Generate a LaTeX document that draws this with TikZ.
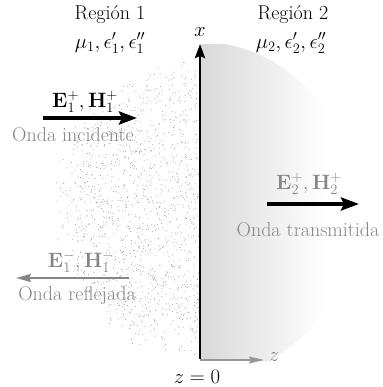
\documentclass[tikz,border=0pt]{standalone}
\usetikzlibrary{arrows.meta}
\definecolor{txtgray}{gray}{0.52}
\definecolor{dotgray}{gray}{0.6}
\tikzset{
  lbl/.style={font=\rmfamily\fontsize{20}{23}\selectfont, inner sep=0pt},
  graylbl/.style={lbl, text=txtgray},
  bigarrow/.style={line width=3.6pt, -{Stealth[length=18pt,width=13pt,inset=3pt]}},
  axisarrow/.style={line width=2.8pt, -{Stealth[length=14pt,width=10pt,inset=2pt]}},
  thinarrow/.style={line width=1.8pt, txtgray, -{Stealth[length=15pt,width=8pt,inset=2pt]}},
}
\begin{document}
\begin{tikzpicture}[x=1pt,y=-1pt]
\useasboundingbox (0,0) rectangle (382,387);
% region 1 stipple
\pgfmathsetseed{7}
\foreach \i in {1,...,1400}{
  \pgfmathsetmacro{\a}{90+180*rnd}
  \pgfmathsetmacro{\r}{sqrt(rnd)*(0.86+0.16*rnd)}
  \fill[dotgray] ({200+146*\r*cos(\a)},{207+152*\r*sin(\a)}) circle[radius=0.5];
}
\fill[white] (201.5,0) rectangle (382,387);
% region 2 shading
\begin{scope}
  \clip (201.4,45) rectangle (382,360);
  \clip (200,210) ellipse[x radius=155, y radius=168];
  \shade[left color=black!15, right color=white] (201.4,45) rectangle (325,360);
\end{scope}
% axes
\coordinate (O) at (200,360);
\coordinate (xtip) at (200,44);
\coordinate (ztip) at (264,360);
\draw[line width=1.6pt, txtgray!85, -{Stealth[length=15pt,width=7pt,inset=2pt]}] (O) -- (ztip);
\draw[axisarrow] ([yshift=1.4pt]O) -- (xtip);
\node[lbl] (xl) at (200,32) {$x$};
\node[graylbl] (zl) at (274,357) {$z$};
\node[lbl] (z0) at (197,377) {$z = 0$};
% region labels
\node[lbl] (r1) at (110,15) {Región 1};
\node[lbl] (p1) at (110,43) {$\mu_1, \epsilon_1', \epsilon_1''$};
\node[lbl] (r2) at (293,15) {Región 2};
\node[lbl] (p2) at (291,43) {$\mu_2, \epsilon_2', \epsilon_2''$};
% incident
\coordinate (ia) at (43,118);
\coordinate (ib) at (137,118);
\draw[bigarrow] (ia) -- (ib);
\node[lbl] (il) at (85,102) {$\mathbf{E}_1^+, \mathbf{H}_1^+$};
\node[graylbl] (it) at (73,135) {Onda incidente};
% transmitted
\coordinate (ta) at (267,204);
\coordinate (tb) at (359,204);
\draw[bigarrow] (ta) -- (tb);
\node[graylbl] (tl) at (309,184) {$\mathbf{E}_2^+, \mathbf{H}_2^+$};
\node[graylbl] (tt) at (308,230) {Onda transmitida};
% reflected
\coordinate (ra) at (129,278);
\coordinate (rb) at (16,278);
\draw[thinarrow] (ra) -- (rb);
\node[graylbl] (rl) at (81,262) {$\mathbf{E}_1^-, \mathbf{H}_1^-$};
\node[graylbl] (rt) at (77,296) {Onda reflejada};
\end{tikzpicture}
\end{document}
